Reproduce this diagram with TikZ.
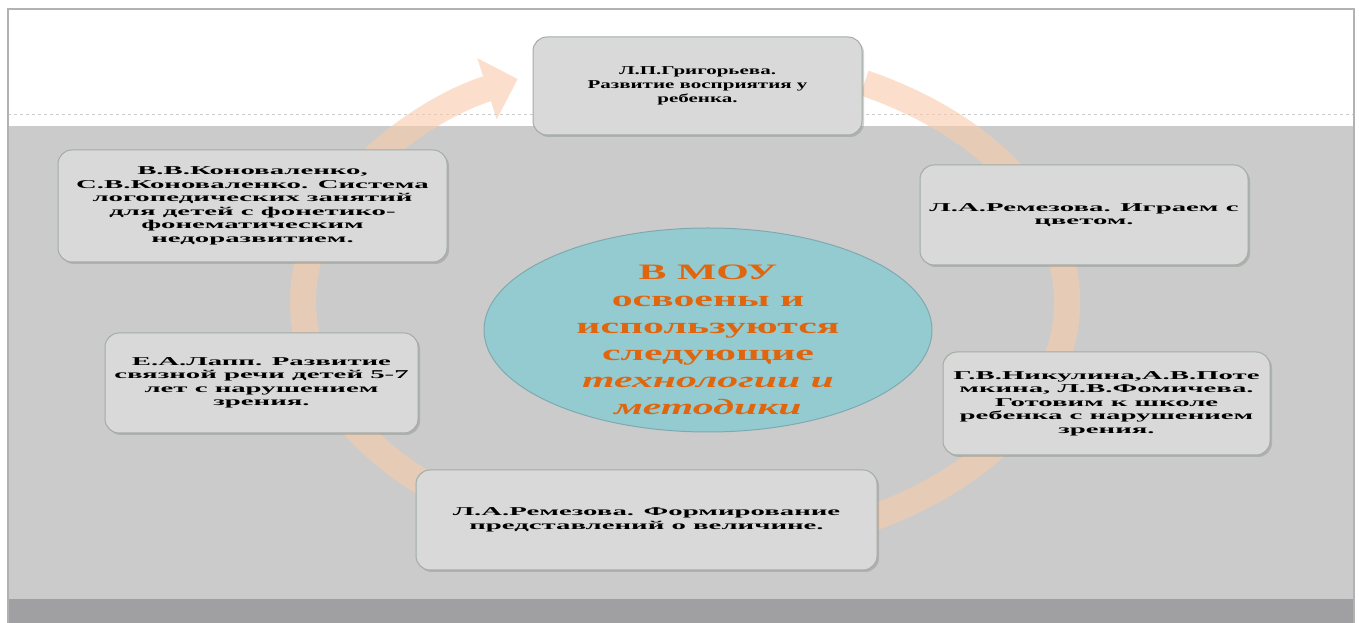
\documentclass[tikz,border=0pt]{standalone}
\usepackage{fontspec}
\setmainfont{Liberation Serif}
\newfontfamily\boxfont[FakeStretch=2.4]{Liberation Serif}
\newfontfamily\topfont[FakeStretch=1.75]{Liberation Serif}
\newfontfamily\hubfont[FakeStretch=1.9]{Liberation Serif}
\usetikzlibrary{shapes.geometric,shadows,arrows.meta}
\definecolor{boxgray}{HTML}{D9D9D9}
\definecolor{boxline}{HTML}{A3ADA3}
\definecolor{panelgray}{HTML}{CBCBCB}
\definecolor{bargray}{HTML}{A0A0A3}
\definecolor{ringpeach}{HTML}{F9CBAA}
\definecolor{hubteal}{HTML}{94CBD0}
\definecolor{hubline}{HTML}{7FA9B0}
\definecolor{huborange}{HTML}{E0650F}
\tikzset{
  method/.style={rectangle, rounded corners=14pt, draw=boxline, line width=1pt,
    fill=boxgray, align=center, inner sep=0pt,
    font=\boxfont\bfseries\fontsize{12}{13.5}\selectfont,
    drop shadow={opacity=0.35, shadow xshift=2pt, shadow yshift=-2pt}},
  hub/.style={ellipse, draw=hubline, line width=1pt, fill=hubteal, inner sep=0pt},
  ring/.style={line width=26pt, draw=ringpeach,
    -{Triangle[width=64pt,length=32pt,line width=0.5pt]}}
}
\begin{document}
\begin{tikzpicture}[x=1pt,y=1pt]
  \useasboundingbox (0,0) rectangle (1359,623);
  % background of the slide
  \fill[white] (0,0) rectangle (1359,623);
  \fill[panelgray] (8,24) rectangle (1354,497);
  \fill[bargray] (8,0) rectangle (1354,24);
  \draw[gray!40, dashed] (8,509) -- (1354,509);
  \draw[gray!60, line width=1.5pt] (8,0) -- (8,614) -- (1354,614) -- (1354,0);

  % cycle arrow
  \coordinate (centre) at (685,321);
  \begin{scope}[transparency group, opacity=0.6]
    \draw[ring] (centre) ++(62:382 and 248) arc[start angle=62, end angle=-244, x radius=382, y radius=248];
  \end{scope}

  % centre
  \node [hub, minimum width=448, minimum height=204] (mou) at (708,293) {};
  \node [align=center, text=huborange, font=\hubfont\bfseries\fontsize{22}{27}\selectfont] (moutext) at (708,283)
    {В МОУ\\ освоены и\\ используются\\ следующие\\ {\itshape технологии и}\\ {\itshape методики}};

  % methods
  \node [method, minimum width=329, minimum height=98, font=\topfont\bfseries\fontsize{12}{14}\selectfont] (grigoreva) at (697.5,537)
    {Л.П.Григорьева.\\ Развитие восприятия у\\ ребенка.};
  \node [method, minimum width=389, minimum height=112] (konovalenko) at (252.5,417)
    {В.В.Коноваленко,\\ С.В.Коноваленко. Система\\ логопедических занятий\\ для детей с фонетико-\\ фонематическим\\ недоразвитием.};
  \node [method, minimum width=328, minimum height=100] (remezovaA) at (1084,408)
    {Л.А.Ремезова. Играем с\\ цветом.};
  \node [method, minimum width=313, minimum height=100] (lapp) at (261.5,240)
    {Е.А.Лапп. Развитие\\ связной речи детей 5-7\\ лет с нарушением\\ зрения.};
  \node [method, minimum width=327, minimum height=103] (nikulina) at (1106.5,219.5)
    {Г.В.Никулина,А.В.Поте\\ мкина, Л.В.Фомичева.\\ Готовим к школе\\ ребенка с нарушением\\ зрения.};
  \node [method, minimum width=461, minimum height=100] (remezovaB) at (646.5,103)
    {Л.А.Ремезова. Формирование\\ представлений о величине.};
\end{tikzpicture}
\end{document}
